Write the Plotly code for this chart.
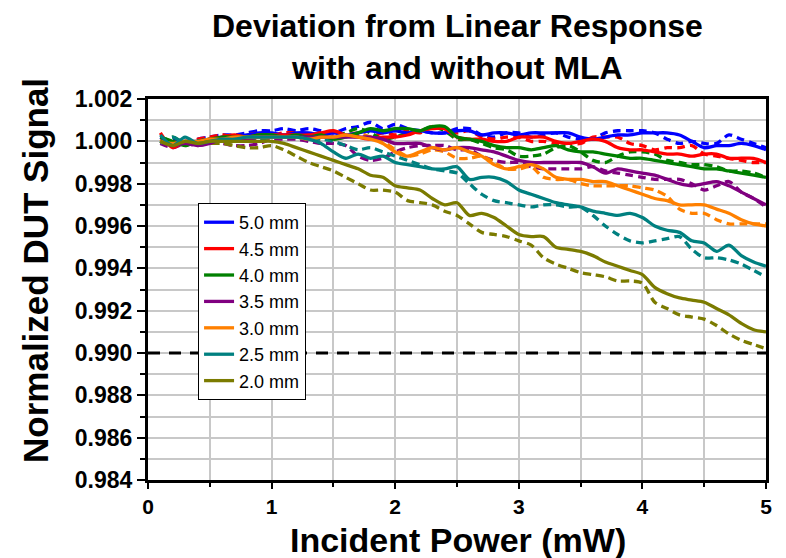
import plotly.graph_objects as go

power = [round(0.1 * i, 1) for i in range(1, 51)]

labels = ["5.0 mm", "4.5 mm", "4.0 mm", "3.5 mm", "3.0 mm", "2.5 mm", "2.0 mm"]
colors = ["#0000FF", "#FF0000", "#008000", "#800080", "#FF8000", "#008080", "#7B7B00"]

blue_solid = [1.0002, 0.9999, 1.0000, 1.0000, 1.0001, 1.0002, 1.0002, 1.0003, 1.0004, 1.0004,
              1.0003, 1.0004, 1.0004, 1.0003, 1.0004, 1.0003, 1.0004, 1.0005, 1.0004, 1.0005,
              1.0004, 1.0005, 1.0004, 1.0004, 1.0005, 1.0005, 1.0003, 1.0004, 1.0004, 1.0003,
              1.0004, 1.0004, 1.0004, 1.0004, 1.0002, 1.0001, 1.0002, 1.0003, 1.0003, 1.0004,
              1.0004, 1.0004, 1.0003, 1.0000, 0.9997, 0.9998, 0.9998, 0.9999, 0.9998, 0.9996]
blue_dash = [1.0000, 1.0001, 0.9999, 1.0001, 1.0002, 1.0003, 1.0003, 1.0004, 1.0005, 1.0005,
             1.0006, 1.0005, 1.0006, 1.0005, 1.0004, 1.0006, 1.0007, 1.0009, 1.0006, 1.0008,
             1.0006, 1.0005, 1.0004, 1.0004, 1.0006, 1.0006, 1.0003, 1.0002, 1.0004, 1.0004,
             1.0002, 1.0003, 1.0004, 1.0002, 1.0001, 1.0001, 1.0004, 1.0005, 1.0005, 1.0005,
             1.0004, 1.0001, 0.9999, 1.0000, 0.9999, 0.9999, 1.0003, 1.0001, 0.9999, 0.9997]
red_solid = [1.0004, 0.9997, 1.0000, 0.9999, 1.0001, 1.0002, 1.0003, 1.0002, 1.0003, 1.0003,
             1.0003, 1.0003, 1.0003, 1.0004, 1.0005, 1.0003, 1.0002, 1.0001, 1.0002, 1.0002,
             1.0003, 1.0005, 1.0006, 1.0006, 1.0002, 1.0001, 1.0001, 1.0000, 1.0000, 1.0002,
             1.0002, 1.0002, 1.0000, 0.9999, 1.0000, 1.0001, 1.0000, 0.9997, 0.9996, 0.9996,
             0.9995, 0.9994, 0.9994, 0.9993, 0.9994, 0.9994, 0.9992, 0.9992, 0.9992, 0.9990]
red_dash = [1.0001, 1.0000, 0.9998, 1.0001, 1.0002, 1.0003, 1.0002, 1.0003, 1.0004, 1.0003,
            1.0004, 1.0004, 1.0003, 1.0004, 1.0004, 1.0003, 1.0003, 1.0002, 1.0004, 1.0003,
            1.0005, 1.0004, 1.0007, 1.0006, 1.0004, 1.0005, 1.0002, 1.0001, 1.0002, 1.0002,
            1.0000, 1.0000, 0.9999, 0.9999, 0.9999, 1.0002, 1.0002, 1.0002, 0.9999, 0.9998,
            0.9996, 0.9997, 0.9997, 0.9998, 0.9994, 0.9993, 0.9992, 0.9991, 0.9990, 0.9990]
green_solid = [1.0002, 1.0000, 0.9998, 1.0000, 1.0001, 1.0002, 1.0002, 1.0002, 1.0003, 1.0003,
               1.0002, 1.0003, 1.0002, 1.0003, 1.0001, 1.0002, 1.0004, 1.0006, 1.0005, 1.0006,
               1.0006, 1.0005, 1.0007, 1.0007, 1.0002, 1.0001, 1.0000, 0.9998, 0.9997, 0.9997,
               0.9996, 0.9997, 0.9998, 0.9996, 0.9995, 0.9995, 0.9994, 0.9993, 0.9992, 0.9992,
               0.9991, 0.9990, 0.9989, 0.9988, 0.9987, 0.9987, 0.9986, 0.9985, 0.9984, 0.9983]
green_dash = [0.9999, 1.0002, 0.9999, 1.0000, 1.0001, 1.0001, 1.0002, 1.0003, 1.0002, 1.0003,
              1.0003, 1.0002, 1.0003, 1.0002, 1.0002, 1.0004, 1.0006, 1.0004, 1.0001, 1.0002,
              1.0004, 1.0005, 1.0007, 1.0005, 1.0001, 1.0001, 0.9999, 0.9997, 0.9996, 0.9993,
              0.9993, 0.9994, 0.9997, 0.9998, 0.9995, 0.9991, 0.9990, 0.9993, 0.9995, 0.9995,
              0.9994, 0.9991, 0.9990, 0.9989, 0.9989, 0.9988, 0.9986, 0.9986, 0.9985, 0.9983]
purple_solid = [1.0000, 0.9998, 0.9999, 0.9998, 0.9999, 1.0001, 1.0001, 1.0001, 1.0002, 1.0002,
                1.0002, 1.0002, 1.0002, 1.0002, 1.0002, 1.0002, 1.0002, 1.0002, 1.0001, 0.9999,
                0.9999, 0.9999, 0.9997, 0.9996, 0.9997, 0.9997, 0.9996, 0.9995, 0.9993, 0.9991,
                0.9990, 0.9990, 0.9990, 0.9990, 0.9990, 0.9988, 0.9985, 0.9987, 0.9986, 0.9985,
                0.9984, 0.9982, 0.9980, 0.9979, 0.9980, 0.9981, 0.9979, 0.9976, 0.9973, 0.9970]
purple_dash = [0.9999, 0.9997, 0.9999, 0.9998, 0.9999, 0.9999, 0.9998, 0.9998, 0.9999, 1.0001,
               1.0001, 1.0001, 1.0000, 0.9999, 0.9999, 0.9998, 0.9993, 0.9991, 0.9992, 0.9995,
               0.9997, 0.9998, 0.9998, 0.9998, 0.9996, 0.9996, 0.9993, 0.9991, 0.9990, 0.9990,
               0.9988, 0.9987, 0.9987, 0.9987, 0.9987, 0.9988, 0.9986, 0.9985, 0.9984, 0.9983,
               0.9982, 0.9982, 0.9982, 0.9980, 0.9977, 0.9979, 0.9981, 0.9976, 0.9973, 0.9969]
orange_solid = [1.0000, 0.9999, 1.0000, 1.0000, 1.0001, 1.0001, 1.0002, 1.0002, 1.0002, 1.0002,
                1.0002, 1.0002, 1.0001, 1.0002, 1.0002, 1.0003, 1.0002, 1.0001, 0.9999, 0.9995,
                0.9993, 0.9995, 0.9997, 0.9996, 0.9997, 0.9995, 0.9993, 0.9989, 0.9987, 0.9988,
                0.9989, 0.9987, 0.9983, 0.9982, 0.9982, 0.9981, 0.9981, 0.9979, 0.9977, 0.9975,
                0.9973, 0.9972, 0.9970, 0.9970, 0.9970, 0.9968, 0.9966, 0.9963, 0.9961, 0.9960]
orange_dash = [1.0001, 0.9998, 1.0000, 0.9999, 1.0000, 1.0001, 1.0001, 1.0002, 1.0001, 1.0002,
               1.0003, 1.0002, 1.0002, 1.0001, 1.0002, 1.0003, 1.0004, 1.0002, 1.0000, 0.9996,
               0.9993, 0.9994, 0.9996, 0.9995, 0.9992, 0.9992, 0.9993, 0.9990, 0.9987, 0.9987,
               0.9988, 0.9983, 0.9982, 0.9982, 0.9980, 0.9979, 0.9979, 0.9979, 0.9979, 0.9978,
               0.9977, 0.9974, 0.9968, 0.9966, 0.9966, 0.9963, 0.9961, 0.9961, 0.9961, 0.9961]
teal_solid = [1.0003, 0.9998, 1.0002, 0.9999, 1.0000, 1.0001, 1.0001, 1.0002, 1.0002, 1.0002,
              1.0002, 1.0002, 1.0001, 0.9999, 0.9995, 0.9992, 0.9994, 0.9992, 0.9993, 0.9990,
              0.9989, 0.9988, 0.9987, 0.9987, 0.9988, 0.9982, 0.9983, 0.9983, 0.9981, 0.9977,
              0.9975, 0.9973, 0.9971, 0.9970, 0.9969, 0.9967, 0.9966, 0.9965, 0.9966, 0.9964,
              0.9960, 0.9958, 0.9957, 0.9953, 0.9952, 0.9948, 0.9951, 0.9946, 0.9943, 0.9941]
teal_dash = [0.9999, 1.0002, 0.9999, 1.0000, 1.0001, 1.0001, 1.0002, 1.0002, 1.0001, 1.0002,
             1.0002, 1.0002, 1.0001, 1.0001, 1.0000, 0.9998, 0.9996, 0.9997, 0.9995, 0.9993,
             0.9991, 0.9989, 0.9987, 0.9986, 0.9985, 0.9980, 0.9975, 0.9972, 0.9971, 0.9970,
             0.9969, 0.9970, 0.9970, 0.9969, 0.9969, 0.9965, 0.9960, 0.9956, 0.9953, 0.9952,
             0.9953, 0.9954, 0.9955, 0.9949, 0.9945, 0.9945, 0.9944, 0.9942, 0.9939, 0.9936]
olive_solid = [1.0000, 0.9998, 1.0000, 0.9999, 1.0000, 1.0000, 1.0000, 1.0000, 1.0000, 1.0000,
               0.9999, 0.9997, 0.9995, 0.9993, 0.9991, 0.9989, 0.9987, 0.9984, 0.9983, 0.9979,
               0.9978, 0.9977, 0.9973, 0.9970, 0.9971, 0.9965, 0.9966, 0.9964, 0.9960, 0.9956,
               0.9955, 0.9955, 0.9950, 0.9949, 0.9948, 0.9946, 0.9943, 0.9941, 0.9939, 0.9937,
               0.9931, 0.9928, 0.9926, 0.9925, 0.9924, 0.9921, 0.9918, 0.9914, 0.9911, 0.9910]
olive_dash = [1.0000, 0.9998, 0.9999, 0.9999, 0.9999, 0.9999, 0.9998, 0.9997, 0.9997, 0.9998,
              0.9996, 0.9993, 0.9990, 0.9988, 0.9986, 0.9983, 0.9980, 0.9977, 0.9977, 0.9976,
              0.9972, 0.9971, 0.9970, 0.9967, 0.9965, 0.9961, 0.9957, 0.9956, 0.9955, 0.9953,
              0.9951, 0.9945, 0.9942, 0.9940, 0.9938, 0.9937, 0.9936, 0.9934, 0.9934, 0.9933,
              0.9924, 0.9921, 0.9918, 0.9917, 0.9916, 0.9913, 0.9909, 0.9906, 0.9904, 0.9902]

solid_series = [blue_solid, red_solid, green_solid, purple_solid, orange_solid, teal_solid, olive_solid]
dash_series = [blue_dash, red_dash, green_dash, purple_dash, orange_dash, teal_dash, olive_dash]

threshold = 0.990

FONT = "Arial, Liberation Sans, sans-serif"

fig = go.Figure()

for lab, col, ys in zip(labels, colors, dash_series):
    fig.add_trace(go.Scatter(x=power, y=ys, mode="lines", name=lab + " (dash)",
                             line=dict(color=col, width=3.3, dash="8px,5px", shape="spline", smoothing=0.8),
                             showlegend=False))
for lab, col, ys in zip(labels, colors, solid_series):
    fig.add_trace(go.Scatter(x=power, y=ys, mode="lines", name=lab,
                             line=dict(color=col, width=3.3, shape="spline", smoothing=0.8)))

fig.add_shape(type="line", xref="x", yref="y", x0=0, x1=5, y0=threshold, y1=threshold,
              line=dict(color="black", width=3, dash="12px,9px"), layer="above")

# the page body has an 8px margin, so the figure is 8px smaller than the window
fig.update_layout(
    width=778, height=550,
    paper_bgcolor="white", plot_bgcolor="white",
    margin=dict(l=140, r=20, t=91, b=78),
    font=dict(family=FONT, color="black"),
    showlegend=True,
    legend=dict(x=0.081, y=0.727, xanchor="left", yanchor="top",
                bgcolor="white", bordercolor="black", borderwidth=1,
                font=dict(size=18, family=FONT, color="black"),
                tracegroupgap=0, itemwidth=30),
    xaxis=dict(range=[0, 5], tickmode="linear", tick0=0, dtick=1,
               showline=True, linecolor="black", linewidth=3, mirror=True,
               ticks="outside", ticklen=6, tickwidth=2, tickcolor="black",
               showgrid=True, gridcolor="#C8C8C8", gridwidth=2,
               minor=dict(dtick=0.5, ticks="outside", ticklen=4, tickwidth=2, tickcolor="black",
                          showgrid=True, gridcolor="#C8C8C8", gridwidth=2),
               tickfont=dict(size=21, family=FONT, color="black", weight="bold"),
               zeroline=False),
    yaxis=dict(range=[0.984, 1.002], tickmode="linear", tick0=0.984, dtick=0.002,
               tickformat=".3f",
               showline=True, linecolor="black", linewidth=3, mirror=True,
               ticks="outside", ticklen=8, tickwidth=2, tickcolor="black",
               showgrid=True, gridcolor="#C8C8C8", gridwidth=2,
               minor=dict(dtick=0.001, ticks="outside", ticklen=5, tickwidth=2, tickcolor="black",
                          showgrid=True, gridcolor="#C8C8C8", gridwidth=2),
               tickfont=dict(size=23, family=FONT, color="black", weight="bold"),
               zeroline=False),
    annotations=[
        dict(text="<b>Deviation from Linear Response<br>with and without MLA</b>",
             xref="paper", yref="paper", x=0.5015, y=1.136, xanchor="center", yanchor="middle",
             showarrow=False, font=dict(size=32, family=FONT, color="black")),
        dict(text="<b>Incident Power (mW)</b>",
             xref="paper", yref="paper", x=0.502, y=-0.158, xanchor="center", yanchor="middle",
             showarrow=False, font=dict(size=34, family=FONT, color="black")),
        dict(text="<b>Normalized DUT Signal</b>", textangle=-90,
             xref="paper", yref="paper", x=-0.183, y=0.551, xanchor="center", yanchor="middle",
             showarrow=False, font=dict(size=35, family=FONT, color="black")),
    ],
)

fig.write_html("out.html")
